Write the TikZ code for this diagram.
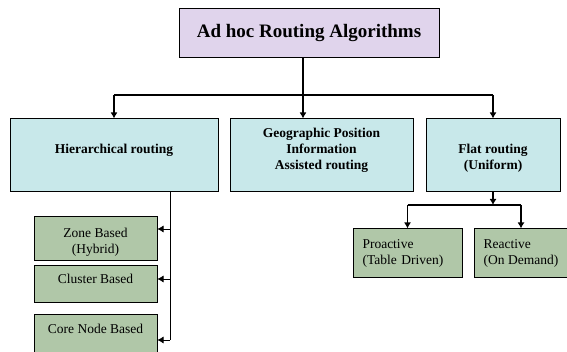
\documentclass[tikz,border=0pt]{standalone}
\usepackage{fontspec}
\setmainfont{Liberation Serif}
\usetikzlibrary{arrows.meta}

\definecolor{topfill}{RGB}{224,212,236}
\definecolor{classfill}{RGB}{200,232,234}
\definecolor{leaffill}{RGB}{176,199,168}

\begin{document}
\begin{tikzpicture}[x=1pt, y=-1pt, line width=1pt,
  topbox/.style={draw, fill=topfill, inner sep=0pt, minimum width=260pt, minimum height=49pt,
    font=\fontsize{19}{22}\selectfont\bfseries},
  classbox/.style={draw, fill=classfill, inner sep=0pt, minimum height=73pt, align=center,
    font=\fontsize{13.5}{16}\selectfont\bfseries},
  leafbox/.style={draw, fill=leaffill, inner sep=0pt, align=center,
    font=\fontsize{13.5}{15.5}\selectfont},
  link/.style={line width=1.5pt, -{Latex[length=6pt,width=7pt]}},
  twig/.style={line width=0.6pt, -{Latex[length=6pt,width=7pt]}}]
\useasboundingbox (0,0) rectangle (567,352);
\clip (0,0) rectangle (567,352);

% top
\node[topbox] (adhoc) at (309,33.5) {Ad hoc Routing Algorithms};

% second level
\node[classbox, minimum width=208pt, text height=9.3pt, text depth=13.3pt] (hier) at (114,155.5) {Hierarchical routing};
\node[classbox, minimum width=183pt, text height=41pt, text depth=13pt] (geo) at (321.5,155.5) {Geographic Position\\Information\\Assisted routing};
\node[classbox, minimum width=134pt, text height=31pt, text depth=3pt] (flat) at (493,155.5) {Flat routing\\(Uniform)};

\coordinate (busL) at (114,95);
\coordinate (busR) at (493,95);
\draw[line width=1.5pt] (busL) -- (busR);
\draw[link] ([xshift=-6pt]adhoc.south) -- ([xshift=-6pt]adhoc.south |- geo.north);
\draw[link] (busL) -- (hier.north);
\draw[link] (busR) -- (flat.north);

% hierarchical leaves
\node[leafbox, minimum width=123pt, minimum height=44pt, text height=32pt, text depth=3pt] (zone) at (95.5,239) {Zone Based\\(Hybrid)};
\node[leafbox, minimum width=123pt, minimum height=37pt, text height=9.3pt, text depth=11pt] (cluster) at (95.5,284.5) {Cluster Based};
\node[leafbox, minimum width=123pt, minimum height=45pt, text depth=18pt] (core) at (95.5,337.5) {Core Node Based};

\coordinate (trunk) at (170,340);
\draw[line width=0.6pt] (hier.south -| trunk) -- (trunk);
\draw[twig] ([yshift=10pt]zone.east -| trunk) -- ([yshift=10pt]zone.east);
\draw[twig] ([yshift=5.5pt]cluster.east -| trunk) -- ([yshift=5.5pt]cluster.east);
\draw[twig] (trunk) -- (trunk -| core.east);

% flat leaves
\node[leafbox, minimum width=109pt, minimum height=49pt, text width=90pt, align=left] (pro) at (407.5,253.5) {Proactive\\(Table Driven)};
\node[leafbox, minimum width=93pt, minimum height=49pt, align=left] (rea) at (521,253.5) {Reactive\\(On Demand)};

\coordinate (fork) at (493,205);
\draw[link] (flat.south) -- (fork);
\draw[line width=1.5pt] (pro.north |- fork) -- (rea.north |- fork);
\draw[link] (pro.north |- fork) -- (pro.north);
\draw[link] (rea.north |- fork) -- (rea.north);
\end{tikzpicture}
\end{document}
